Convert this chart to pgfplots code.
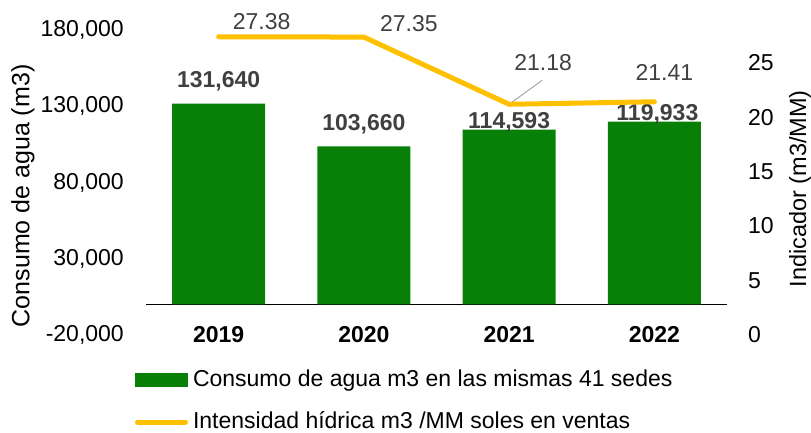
\documentclass[border=0pt]{standalone}
\usepackage{fontspec}
\setmainfont{Liberation Sans}
\usepackage{pgfplots}
\pgfplotsset{compat=1.18}
\usepackage{pgfplotstable}

\definecolor{verde}{HTML}{088008}
\definecolor{oro}{HTML}{FFC000}
\definecolor{rotulo}{HTML}{404040}
\definecolor{guia}{HTML}{A6A6A6}

% x = category index, lbl = printed value, dx/dy = label offsets (pt)
\pgfplotstableread{
x y lbl dx dy
0 131640 131,640 0 16
1 103660 103,660 0 16
2 114593 114,593 0 1
3 119933 119,933 3 1
}\consumo

\pgfplotstableread{
x y lbl dx dy
0 27.38 27.38 43 7
1 27.35 27.35 45 6
2 21.18 21.18 34 34
3 21.41 21.41 10 21
}\intensidad

\pgfplotsset{
  base/.style={
    at={(146pt,98pt)}, anchor=south west,
    scale only axis, width=581pt, height=305pt,
    xmin=-0.5, xmax=3.5,
    axis line style={draw=none},
    tick style={draw=none},
    major tick length=0pt,
    scaled y ticks=false,
    clip=false,
  },
  etiquetas/.style={
    point meta=explicit symbolic,
    nodes near coords,
    visualization depends on={\thisrow{dx} \as \ldx},
    visualization depends on={\thisrow{dy} \as \ldy},
    every node near coord/.append style={anchor=base, inner sep=0pt, text depth=0pt,
      xshift=\ldx pt, yshift=\ldy pt, text=rotulo},
  },
}

\begin{document}
\fontsize{23}{28}\selectfont
\begin{tikzpicture}
\path[use as bounding box] (0,0) rectangle (811pt,433pt);

\begin{axis}[
  base,
  ymin=-20000, ymax=180000,
  xtick={0,1,2,3},
  xticklabels={2019,2020,2021,2022},
  xticklabel style={font=\bfseries, anchor=base, inner sep=0pt, yshift=-8pt},
  ytick={-20000,30000,80000,130000,180000},
  yticklabels={{-20,000},{30,000},{80,000},{130,000},{180,000}},
  yticklabel style={anchor=east, inner sep=0pt, xshift=-22pt},
  extra y ticks={0},
  extra y tick labels={},
  extra y tick style={grid=major, major grid style={black, line width=1.6pt}},
  ylabel={Consumo de agua (m3)},
  ylabel style={at={(axis description cs:-0.2117,0.456)}, anchor=center, font=\fontsize{25}{30}\selectfont},
  legend cell align=left,
  legend style={at={(axis description cs:-0.0189,-0.1115)}, anchor=north west,
    draw=none, fill=none, inner sep=0pt, outer sep=0pt,
    row sep=20pt, column sep=5pt,
    nodes={inner sep=0pt, text height=17pt, text depth=5pt}},
]
\addplot[ybar, bar width=93pt, fill=verde, draw=none,
  legend image code/.code={\fill[verde] (0pt,-7pt) rectangle (53pt,7pt);},
  etiquetas,
  every node near coord/.append style={font=\bfseries},
] table[x=x, y=y, meta=lbl] {\consumo};
\addlegendentry{Consumo de agua m3 en las mismas 41 sedes}
\addlegendimage{legend image code/.code={\draw[oro, line width=5pt, line cap=round] (2.5pt,0pt) -- (50.5pt,0pt);}}
\addlegendentry{Intensidad hídrica m3 /MM soles en ventas}
\end{axis}

\begin{axis}[
  base,
  ymin=0, ymax=28,
  axis x line=none,
  axis y line*=right,
  ytick={0,5,10,15,20,25},
  yticklabels={0,5,10,15,20,25},
  yticklabel style={anchor=west, inner sep=0pt, xshift=21pt},
  ylabel={Indicador (m3/MM)},
  ylabel style={at={(axis description cs:1.1256,0.479)}, anchor=center, font=\fontsize{23.5}{28}\selectfont},
]
\draw[guia, line width=1pt] (axis cs:2,21.18) -- ++(33pt,24pt);
\addplot[oro, line width=5pt, line cap=round, line join=round, mark=none,
  etiquetas,
] table[x=x, y=y, meta=lbl] {\intensidad};
\end{axis}
\end{tikzpicture}
\end{document}
